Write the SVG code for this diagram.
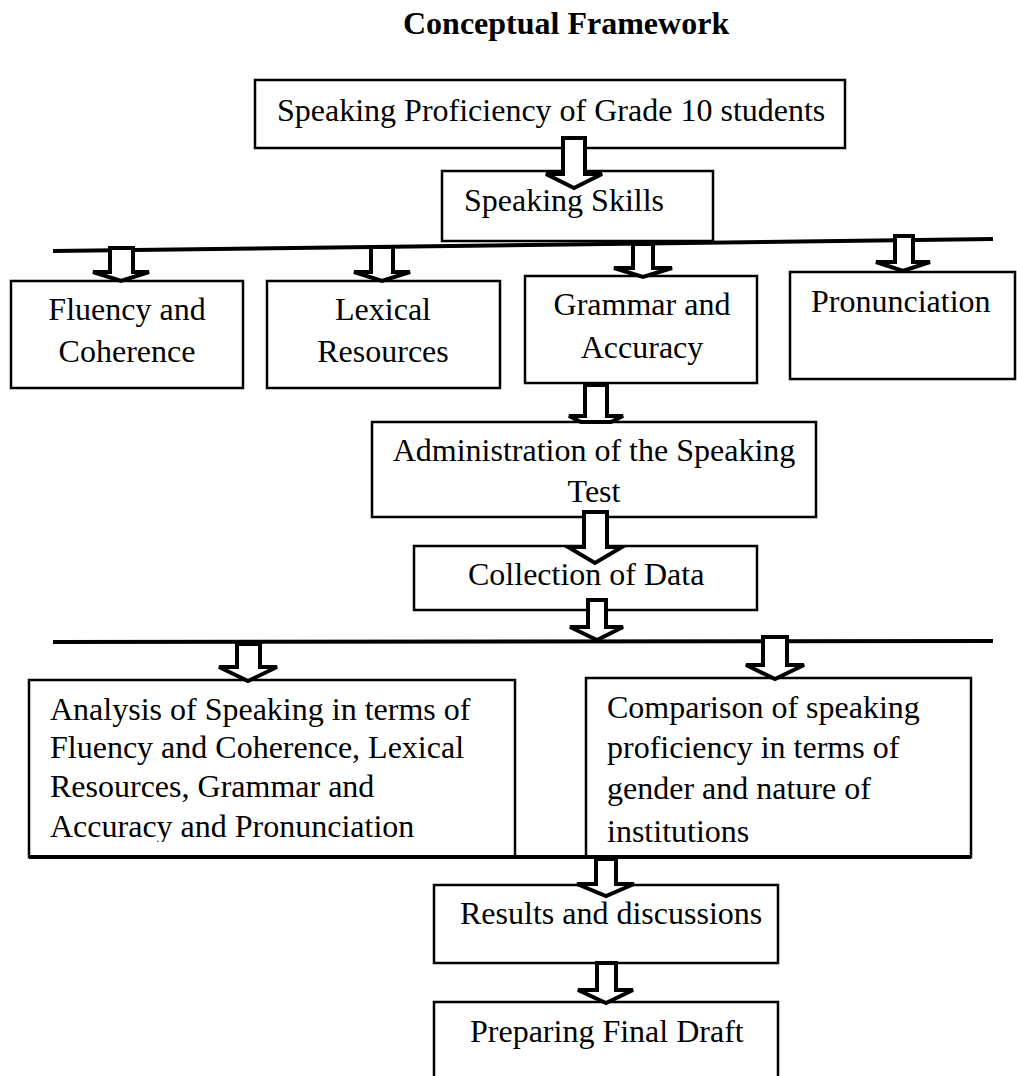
<svg xmlns="http://www.w3.org/2000/svg" width="1017" height="1076" viewBox="0 0 1017 1076">
<style>
  text { font-family: "Liberation Serif", "Times New Roman", serif; font-size: 32px; fill: #000; }
  .title { font-weight: bold; font-size: 32px; }
  .box { fill: #fff; stroke: #000; stroke-width: 2.5; }
  .open { fill: none; stroke: #000; stroke-width: 2.5; }
  .bar { stroke: #000; stroke-width: 4; fill: none; }
  .arrow { fill: #fff; stroke: #000; stroke-width: 4; stroke-linejoin: miter; }
  .mid { text-anchor: middle; }
</style>
<defs>
  <clipPath id="clipAnalysis"><rect x="29" y="680" width="486" height="162"/></clipPath>
</defs>
<rect width="1017" height="1076" fill="#fff"/>
<text class="title" x="403" y="34">Conceptual Framework</text>

<g id="n-top">
  <rect class="box" x="255" y="80" width="590" height="68"/>
  <text x="277" y="121">Speaking Proficiency of Grade 10 students</text>
</g>
<g id="n-skills">
  <rect class="box" x="442" y="171" width="271" height="70"/>
  <text x="464" y="211">Speaking Skills</text>
</g>
<g id="n-fluency">
  <rect class="box" x="11" y="281" width="232" height="107"/>
  <text class="mid" x="127" y="320">Fluency and</text>
  <text class="mid" x="127" y="362">Coherence</text>
</g>
<g id="n-lexical">
  <rect class="box" x="267" y="281" width="233" height="107"/>
  <text class="mid" x="383" y="320">Lexical</text>
  <text class="mid" x="383" y="362">Resources</text>
</g>
<g id="n-grammar">
  <rect class="box" x="525" y="276" width="232" height="107"/>
  <text class="mid" x="642" y="315">Grammar and</text>
  <text class="mid" x="642" y="358">Accuracy</text>
</g>
<g id="n-pron">
  <rect class="box" x="790" y="272" width="225" height="107"/>
  <text x="811" y="312">Pronunciation</text>
</g>
<g id="n-admin">
  <rect class="box" x="372" y="422" width="444" height="95"/>
  <text class="mid" x="594" y="461">Administration of the Speaking</text>
  <text class="mid" x="594" y="502">Test</text>
</g>
<g id="n-collect">
  <rect class="box" x="414" y="546" width="343" height="64"/>
  <text x="468" y="585">Collection of Data</text>
</g>
<g id="n-analysis">
  <rect class="box" x="29" y="680" width="486" height="177"/>
  <g clip-path="url(#clipAnalysis)">
    <text x="50" y="720">Analysis of Speaking in terms of</text>
    <text x="50" y="758">Fluency and Coherence, Lexical</text>
    <text x="50" y="797">Resources, Grammar and</text>
    <text x="50" y="837">Accuracy and Pronunciation</text>
  </g>
</g>
<g id="n-compare">
  <rect class="box" x="586" y="678" width="385" height="179"/>
  <text x="607" y="718">Comparison of speaking</text>
  <text x="607" y="758">proficiency in terms of</text>
  <text x="607" y="799">gender and nature of</text>
  <text x="607" y="842">institutions</text>
</g>
<g id="n-results">
  <rect class="box" x="434" y="885" width="344" height="78"/>
  <text x="460" y="924">Results and discussions</text>
</g>
<g id="n-draft">
  <path class="open" d="M434,1078 V1002 H778 V1078"/>
  <text x="470" y="1042">Preparing Final Draft</text>
</g>

<g id="connectors">
  <line class="bar" x1="53" y1="251" x2="993" y2="239"/>
  <line class="bar" x1="53" y1="642" x2="993" y2="641"/>
  <line class="bar" x1="29" y1="857" x2="971" y2="857"/>
  <polygon class="arrow" points="563,138 585,138 585,174 602,174 574,188 546,174 563,174"/>
  <polygon class="arrow" points="110,248 133,248 133,272 149,272 121,281 93,272 110,272"/>
  <polygon class="arrow" points="371,247 393,247 393,272 410,272 382,281 354,272 371,272"/>
  <polygon class="arrow" points="633,244 653,244 653,268 672,268 643,277 614,268 633,268"/>
  <polygon class="arrow" points="895,236 913,236 913,262 930,262 903,271 876,262 895,262"/>
  <polygon class="arrow" points="585,385 607,385 607,416 623,416 611,422 581,422 569,416 585,416"/>
  <polygon class="arrow" points="584,512 607,512 607,547 622,547 595,563 568,547 584,547"/>
  <polygon class="arrow" points="588,600 606,600 606,627 623,627 597,640 570,627 588,627"/>
  <polygon class="arrow" points="237,644 260,644 260,667 277,667 248,681 219,667 237,667"/>
  <polygon class="arrow" points="763,637 787,637 787,665 804,665 775,679 746,665 763,665"/>
  <polygon class="arrow" points="596,859 616,859 616,884 634,884 606,896 577,884 596,884"/>
  <polygon class="arrow" points="597,963 616,963 616,990 633,990 606,1003 578,990 597,990"/>
</g>
</svg>
